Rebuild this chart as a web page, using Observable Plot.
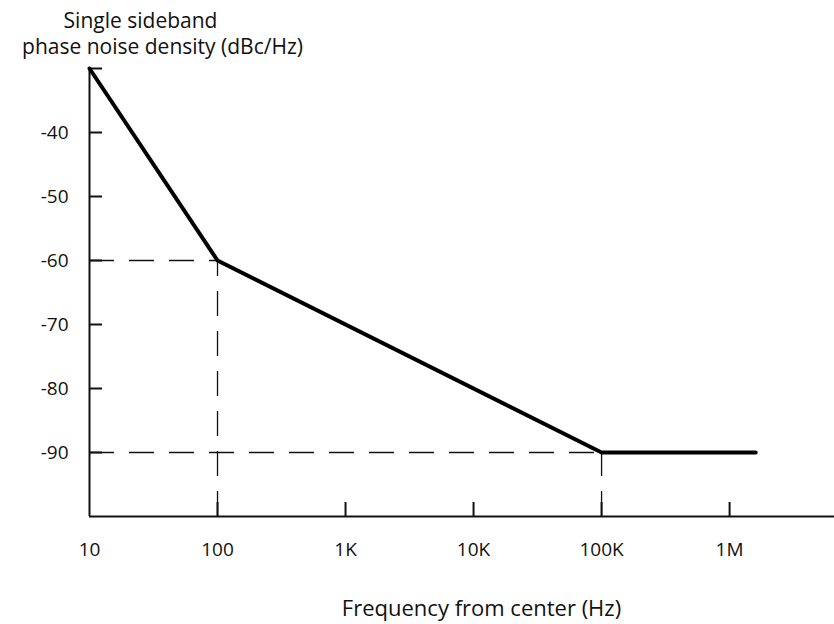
<!DOCTYPE html>
<html><head><meta charset="utf-8">
<script src="https://cdn.jsdelivr.net/npm/d3@7"></script>
<script src="https://cdn.jsdelivr.net/npm/@observablehq/plot@0.6"></script>
<style>body{margin:0;background:#fff}</style>
</head><body><div id="chart"></div>
<script>
// Phase-noise profile (corner points)
const freq = [10, 100, 1e5, 1.6e6];
const noise = [-30, -60, -90, -90];
// Dashed guide corners
const guideFreq = [100, 1e5];
const guideNoise = [-60, -90];
// Ticks
const xTicks = [10, 100, 1e3, 1e4, 1e5, 1e6];
const xTickLabels = ["10", "100", "1K", "10K", "100K", "1M"];
const yTicks = [-30, -40, -50, -60, -70, -80, -90];
const yTickLabels = ["", "-40", "-50", "-60", "-70", "-80", "-90"];
const yLabelLines = ["Single sideband", "phase noise density (dBc/Hz)"];
const xLabel = "Frequency from center (Hz)";

const profile = freq.map((f, i) => ({f, n: noise[i]}));
const guides = guideFreq.map((f, i) => ({f, n: guideNoise[i]}));
const xMin = 10, yMin = -100;
const font = "'Open Sans', sans-serif";
const W = 834, H = 624, mL = 89, mR = 0, mT = 68, mB = 108;
const frameW = W - mL - mR;

const chart = Plot.plot({
  width: W,
  height: H,
  marginLeft: mL,
  marginRight: mR,
  marginTop: mT,
  marginBottom: mB,
  style: {fontFamily: font, fontSize: "19px", color: "#111", background: "#fff"},
  x: {type: "log", domain: [10, 6.6e6]},
  y: {domain: [-100, -30]},
  marks: [
    // dashed guides
    Plot.ruleY(guides, {y: "n", x1: xMin, x2: "f", stroke: "#111", strokeWidth: 1.3, strokeDasharray: "25,15"}),
    Plot.ruleX(guides, {x: "f", y1: yMin, y2: "n", stroke: "#111", strokeWidth: 1.3, strokeDasharray: "25,15"}),
    // axis lines
    Plot.ruleX([xMin], {stroke: "#111", strokeWidth: 2}),
    Plot.ruleY([yMin], {stroke: "#111", strokeWidth: 2}),
    // inward ticks
    Plot.axisX(xTicks.slice(1), {tickSize: -14, strokeWidth: 2, tickFormat: () => "", label: null, stroke: "#111"}),
    Plot.tickY(yTicks, {y: d => d, insetRight: frameW - 13, strokeWidth: 2, stroke: "#111"}),
    // tick labels
    Plot.axisX(xTicks, {tickSize: 0, tickPadding: 26, fontSize: 19, tickFormat: d => xTickLabels[xTicks.indexOf(d)], label: null, fill: "#111"}),
    Plot.axisY(yTicks, {tickSize: 0, tickPadding: 21, fontSize: 19, tickFormat: d => yTickLabels[yTicks.indexOf(d)], label: null, fill: "#111"}),
    // profile line
    Plot.line(profile, {x: "f", y: "n", stroke: "#000", strokeWidth: 4, strokeLinecap: "round", strokeLinejoin: "round"}),
    // axis titles
    Plot.text([yLabelLines[0]], {frameAnchor: "top-left", text: d => d, fontSize: 21, dx: 51, dy: -47, textAnchor: "middle", lineAnchor: "middle", fill: "#111"}),
    Plot.text([yLabelLines[1]], {frameAnchor: "top-left", text: d => d, fontSize: 21, dx: 73, dy: -21, textAnchor: "middle", lineAnchor: "middle", fill: "#111"}),
    Plot.text([xLabel], {frameAnchor: "bottom", text: d => d, fontSize: 22, dx: 19.5, dy: 92, textAnchor: "middle", lineAnchor: "middle", fill: "#111"})
  ]
});
document.getElementById("chart").append(chart);
</script>
</body></html>
